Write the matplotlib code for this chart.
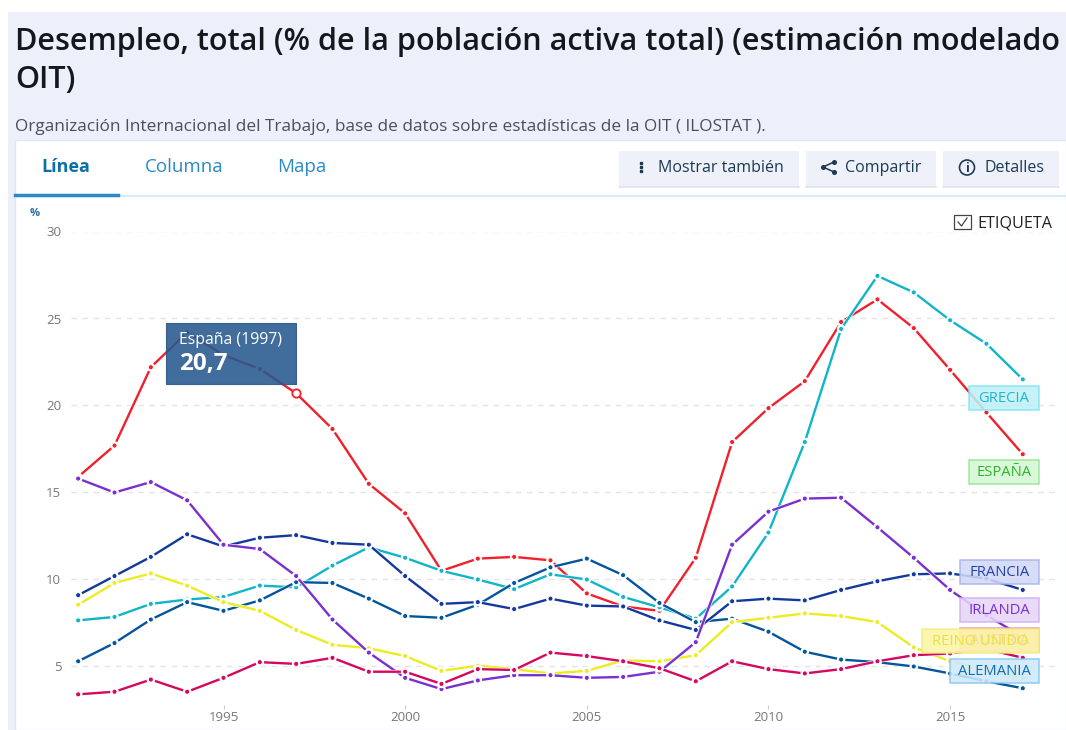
import matplotlib
matplotlib.use("Agg")
import matplotlib.pyplot as plt
import matplotlib.patheffects as pe
from matplotlib.patches import Rectangle, Circle

plt.rcParams['font.family'] = ['Open Sans', 'DejaVu Sans']

W, H = 1066, 730

years = list(range(1991, 2018))
espana = [15.9, 17.7, 22.2, 24.2, 22.9, 22.1, 20.7, 18.65, 15.5, 13.8, 10.5, 11.2, 11.3, 11.1,
          9.2, 8.45, 8.2, 11.25, 17.9, 19.85, 21.4, 24.8, 26.1, 24.45, 22.05, 19.6, 17.2]
grecia = [7.65, 7.85, 8.6, 8.85, 9.0, 9.65, 9.55, 10.8, 11.85, 11.25, 10.5, 10.0, 9.45, 10.3,
          10.0, 9.0, 8.4, 7.75, 9.6, 12.7, 17.9, 24.4, 27.45, 26.5, 24.9, 23.55, 21.5]
irlanda = [15.8, 15.0, 15.6, 14.55, 12.0, 11.75, 10.2, 7.7, 5.8, 4.35, 3.7, 4.2, 4.5, 4.5,
           4.35, 4.4, 4.7, 6.4, 12.0, 13.9, 14.65, 14.7, 13.0, 11.25, 9.4, 7.95, 6.7]
francia = [9.1, 10.2, 11.3, 12.6, 11.9, 12.4, 12.55, 12.1, 12.0, 10.2, 8.6, 8.7, 8.3, 8.9,
           8.5, 8.45, 7.65, 7.1, 8.75, 8.9, 8.8, 9.4, 9.9, 10.3, 10.35, 10.05, 9.4]
alemania = [5.3, 6.35, 7.7, 8.7, 8.2, 8.8, 9.85, 9.8, 8.9, 7.9, 7.8, 8.55, 9.8, 10.7,
            11.2, 10.25, 8.65, 7.55, 7.75, 7.0, 5.85, 5.4, 5.25, 5.0, 4.6, 4.15, 3.75]
reino_unido = [8.55, 9.8, 10.35, 9.65, 8.7, 8.2, 7.1, 6.25, 6.05, 5.6, 4.75, 5.05, 4.85, 4.6,
               4.75, 5.35, 5.3, 5.65, 7.55, 7.8, 8.05, 7.9, 7.55, 6.1, 5.3, 4.8, 4.35]
austria = [3.4, 3.55, 4.25, 3.55, 4.35, 5.25, 5.15, 5.5, 4.7, 4.7, 4.0, 4.85, 4.8, 5.8,
           5.6, 5.3, 4.9, 4.15, 5.3, 4.85, 4.6, 4.85, 5.3, 5.65, 5.75, 6.0, 5.5]

series = [
    (espana, "#f0202c"),
    (grecia, "#10b5c8"),
    (alemania, "#03559c"),
    (francia, "#12399b"),
    (reino_unido, "#ecec22"),
    (irlanda, "#7a2fd0"),
    (austria, "#d4085f"),
]
y_ticks = [5, 10, 15, 20, 25, 30]
x_ticks = [1995, 2000, 2005, 2010, 2015]


def px_axes(fig, z):
    a = fig.add_axes([0, 0, 1, 1], zorder=z)
    a.set_xlim(0, W)
    a.set_ylim(H, 0)
    a.axis('off')
    return a


def box(a, x0, y0, x1, y1, fc, ec='none', lw=0, alpha=None, z=1):
    a.add_patch(Rectangle((x0, y0), x1 - x0, y1 - y0, fc=fc, ec=ec, lw=lw, alpha=alpha, zorder=z))


fig = plt.figure(figsize=(W / 100, H / 100), dpi=100, facecolor='white')

# page furniture behind the plot
bg = px_axes(fig, 0)
box(bg, 8, 12, W, H, '#edf0fb')
box(bg, 15, 140, W, H, 'white', ec='#dce8f5', lw=1, z=2)
bg.plot([15, W], [196, 196], color='#cfe6f5', lw=1.2, zorder=3)
bg.plot([15, 118], [194.5, 194.5], color='#2a8ac4', lw=2.5, zorder=4)

bg.text(15, 42, "Desempleo, total (% de la población activa total) (estimación modelado",
        fontsize=22.1, fontweight=600, color='#14171c', va='center', ha='left', zorder=5)
bg.text(15, 80, "OIT)", fontsize=22.1, fontweight=600, color='#14171c', va='center', ha='left', zorder=5)
bg.text(15, 127, "Organización Internacional del Trabajo, base de datos sobre estadísticas de la OIT ( ILOSTAT ).",
        fontsize=12.4, color='#4b5058', va='center', ha='left', zorder=5)

bg.text(66, 167, "Línea", fontsize=13, fontweight='bold', color='#0f6fa8', va='center', ha='center', zorder=5)
bg.text(184, 167, "Columna", fontsize=13.5, color='#2a8ac4', va='center', ha='center', zorder=5)
bg.text(302, 167, "Mapa", fontsize=13.5, color='#2a8ac4', va='center', ha='center', zorder=5)

for x0, x1 in [(619, 799), (806, 936), (943, 1059)]:
    box(bg, x0, 151, x1, 187, '#eef1fa', z=3)
    bg.plot([x0, x1], [187, 187], color='#dfe3ef', lw=1.2, zorder=4)
bg.text(721, 168, "Mostrar también", fontsize=11.5, color='#1d3a52', va='center', ha='center', zorder=5)
bg.text(883, 168, "Compartir", fontsize=11.5, color='#1d3a52', va='center', ha='center', zorder=5)
bg.text(1015, 168, "Detalles", fontsize=11.5, color='#1d3a52', va='center', ha='center', zorder=5)
# small button icons
bg.plot([641, 641, 641], [163, 167, 171], 's', color='#1d3a52', ms=1.8, zorder=5)
bg.plot([834, 823, 834], [162, 167, 172], '-o', color='#1d3a52', lw=1.1, ms=2.6, zorder=5)
bg.add_patch(Circle((967, 167.5), 7.5, fc='none', ec='#1d3a52', lw=1.2, zorder=5))
bg.text(967, 168, "i", fontsize=9, fontweight='bold', color='#1d3a52', va='center', ha='center', zorder=6)

bg.text(35, 214, "%", fontsize=8, fontweight='bold', color='#2a6ea6', va='center', ha='center', zorder=5)
box(bg, 954, 215, 971, 229, 'white', ec='#444444', lw=0.9, z=5)
bg.plot([958, 961.5, 967], [222, 226, 218], color='#444444', lw=0.9, zorder=6)
bg.text(977, 223, "ETIQUETA", fontsize=11.6, color='#222222', va='center', ha='left', zorder=5)

# data axes, placed so 1995/2015 and 5/30 land on the reference gridlines
ax_l, ax_r, ax_t, ax_b = 71, 1060, 231.5, 705
ax = fig.add_axes([ax_l / W, 1 - ax_b / H, (ax_r - ax_l) / W, (ax_b - ax_t) / H], zorder=1)
ax.patch.set_alpha(0)
ax.set_xlim(1995 + (ax_l - 223.5) / 36.33, 1995 + (ax_r - 223.5) / 36.33)
ax.set_ylim(30 - (ax_b - 231.5) / 17.4, 30)
for s in ax.spines.values():
    s.set_visible(False)
ax.set_yticks(y_ticks)
ax.set_xticks(x_ticks)
ax.set_xticklabels([str(v) for v in x_ticks])
ax.grid(axis='y', color='#e4e4e4', lw=1, ls=(0, (4, 4)), zorder=0)
ax.tick_params(axis='y', length=0, labelsize=9.5, labelcolor='#777777', pad=7)
ax.tick_params(axis='x', length=3, width=0.8, color='#cccccc', labelsize=9.5, labelcolor='#777777', pad=1)

for vals, col in series:
    ax.plot(years, vals, color=col, lw=1.7, marker='o', ms=3.6, mfc=col, mec='white', mew=0.6,
            solid_capstyle='round', zorder=3,
            path_effects=[pe.Stroke(linewidth=2.6, foreground='white'), pe.Normal()])
# highlighted point under the tooltip
ax.plot(years[6], espana[6], 'o', ms=6, mfc='white', mec='#f0202c', mew=1.3, zorder=4)

# tooltip and end labels sit over the lines
top = px_axes(fig, 2)
box(top, 166, 323, 296, 384, '#26598f', ec='#2a5686', lw=0.8, alpha=0.88, z=2)
top.text(179, 340, "España (1997)", fontsize=11.4, color='white', va='center', ha='left', zorder=3)
top.text(179, 364, "20,7", fontsize=17.5, fontweight='bold', color='white', va='center', ha='left', zorder=3)

end_labels = ["GRECIA", "ESPAÑA", "FRANCIA", "IRLANDA", "AUSTRIA", "REINO UNIDO", "ALEMANIA"]
label_boxes = [
    (969, 386, '#bdf0f6', '#7fe6f2', '#22b6cc'),
    (969, 460, '#d6f6d4', '#92e892', '#2cb52c'),
    (960, 560, '#d2d8f6', '#a6b2ee', '#2340b0'),
    (960, 598, '#e6d6f8', '#ceaef0', '#7a2fd0'),
    (960, 628, '#f8c4d8', '#f08ab0', '#d4085f'),
    (922, 629, '#fbf6a6', '#f3ec80', '#ecdf3c'),
    (950, 659, '#cfe9fb', '#84c6f2', '#0e6cb4'),
]
# each label stacks on the one before, so REINO UNIDO nearly hides AUSTRIA
for i, (name, (x0, y0, fc, ec, tc)) in enumerate(zip(end_labels, label_boxes)):
    box(top, x0, y0, 1039, y0 + 23.5, fc, ec=ec, lw=1.1, alpha=0.88, z=4 + 2 * i)
    top.text((x0 + 1039) / 2, y0 + 12.5, name, fontsize=10.6, color=tc, va='center', ha='center', zorder=5 + 2 * i)

fig.savefig("out.png", dpi=100)
